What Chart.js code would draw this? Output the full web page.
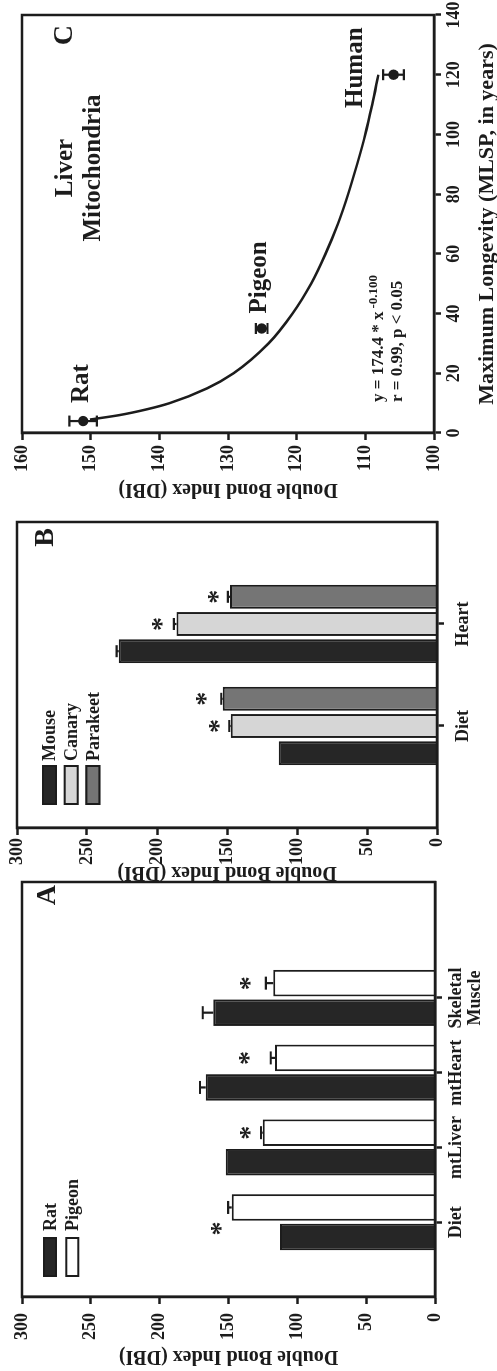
<!DOCTYPE html>
<html><head><meta charset="utf-8">
<script src="https://cdn.jsdelivr.net/npm/chart.js@4.4.1/dist/chart.umd.min.js"></script>
<style>
html,body{margin:0;padding:0;background:#fff;overflow:hidden;width:497px;height:1371px;}
#fig{position:absolute;left:0;top:1371px;width:1371px;height:497px;transform-origin:0 0;transform:rotate(-90deg);background:#fff;}
#fig canvas{position:absolute;top:0;}
</style></head><body>
<div id="fig">
<canvas id="cA" width="495" height="497" style="left:0px"></canvas>
<canvas id="cB" width="370" height="497" style="left:488px"></canvas>
<canvas id="cC" width="501" height="497" style="left:870px"></canvas>
</div>
<script>
// ---------- Panel A data ----------
const catsA = ['Diet', 'mtLiver', 'mtHeart', ['Skeletal', 'Muscle']];
const ratDBI = [112.6, 152.0, 166.6, 161.0];
const ratErr = [0, 0, 4.1, 7.7];
const pigeonDBI = [147.7, 125.2, 116.2, 117.5];
const pigeonErr = [2.5, 1.2, 3.1, 5.3];
const pigeonStar = [158.6, 138.0, 138.5, 138.0];
// ---------- Panel B data ----------
const catsB = ['Diet', 'Heart'];
const mouseDBI = [113.1, 227.3];
const mouseErr = [0, 1.5];
const canaryDBI = [147.4, 186.0];
const canaryErr = [1.0, 2.0];
const canaryStar = [158.6, 199.3];
const parakeetDBI = [153.1, 147.9];
const parakeetErr = [1.0, 1.5];
const parakeetStar = [168.0, 160.0];
const dbiTicksAB = [0, 50, 100, 150, 200, 250, 300];
// ---------- Panel C data ----------
const species = ['Rat', 'Pigeon', 'Human'];
const mlsp = [4, 35, 120];
const liverDBI = [151.1, 125.1, 105.9];
const liverErr = [2.0, 0.85, 1.5];
const fitX = [4.5, 6, 8, 10, 15, 20, 30, 40, 50, 60, 70, 80, 90, 100, 110, 120];
const fitY = [150.1, 145.8, 141.7, 138.5, 133.0, 129.2, 124.1, 120.6, 117.9, 115.8, 114.0, 112.5, 111.2, 110.0, 109.0, 108.1];
const mlspTicks = [0, 20, 40, 60, 80, 100, 120, 140];
const dbiTicksC = [100, 110, 120, 130, 140, 150, 160];

const INK = '#1c1c1c';
const SERIF = '"Liberation Serif","Times New Roman",Times,serif';
Chart.defaults.font.family = SERIF;
Chart.defaults.font.weight = 'bold';
Chart.defaults.color = INK;
Chart.defaults.animation = false;

function drawStar(ctx, x, y, size) {
  ctx.save();
  ctx.font = `bold ${size}px ${SERIF}`;
  ctx.fillStyle = INK;
  ctx.textAlign = 'center';
  ctx.textBaseline = 'alphabetic';
  const m = ctx.measureText('*');
  ctx.fillText('*', x, y + (m.actualBoundingBoxAscent - m.actualBoundingBoxDescent) / 2);
  ctx.restore();
}

const figPlugin = {
  id: 'fig',
  afterDatasetsDraw(chart, args, o) {
    const ctx = chart.ctx, a = chart.chartArea, ys = chart.scales.y;
    ctx.save();
    // error bars + stars
    chart.data.datasets.forEach((ds, di) => {
      const meta = chart.getDatasetMeta(di);
      if (ds.errors) {
        ctx.strokeStyle = INK; ctx.lineWidth = 2.2;
        meta.data.forEach((el, i) => {
          const e = ds.errors[i]; if (!e) return;
          const v = ds.data[i].y;
          const half = (o.cap || 12) / 2;
          const yTop = ys.getPixelForValue(v + e);
          const yBot = ds.twoSided ? ys.getPixelForValue(v - e) : el.y;
          ctx.beginPath();
          ctx.moveTo(el.x, yBot); ctx.lineTo(el.x, yTop);
          ctx.moveTo(el.x - half, yTop); ctx.lineTo(el.x + half, yTop);
          if (ds.twoSided) { ctx.moveTo(el.x - half, yBot); ctx.lineTo(el.x + half, yBot); }
          ctx.stroke();
        });
      }
      if (ds.stars) {
        meta.data.forEach((el, i) => {
          const s = ds.stars[i]; if (s == null) return;
          const dx = (o.starDx && o.starDx[i]) || 0;
          drawStar(ctx, el.x + dx, ys.getPixelForValue(s), 28);
        });
      }
    });
    // frame
    ctx.strokeStyle = INK; ctx.lineWidth = 2.5;
    ctx.strokeRect(a.left, a.top, a.right - a.left, a.bottom - a.top);
    // legend
    if (o.legend) {
      const L = o.legend;
      chart.data.datasets.forEach((ds, k) => {
        const x = a.left + L.dx, y = a.top + L.dy + k * L.row;
        ctx.fillStyle = ds.backgroundColor;
        ctx.fillRect(x, y, L.w, L.h);
        ctx.lineWidth = 2; ctx.strokeStyle = INK;
        ctx.strokeRect(x + 1, y + 1, L.w - 2, L.h - 2);
        ctx.fillStyle = INK;
        ctx.font = `bold 18px ${SERIF}`;
        ctx.textAlign = 'left'; ctx.textBaseline = 'middle';
        ctx.fillText(ds.label, x + L.w + L.gap, y + L.h / 2 + 1);
      });
    }
    // panel letter
    if (o.letter) {
      ctx.fillStyle = INK;
      ctx.font = `bold 28px ${SERIF}`;
      ctx.textAlign = 'right'; ctx.textBaseline = 'alphabetic';
      ctx.fillText(o.letter.text, a.right + o.letter.dx, a.top + o.letter.dy);
    }
    if (o.extra) o.extra(chart, ctx, a);
    ctx.restore();
  }
};

function valueAxis(opt) {
  return {
    type: 'linear', position: 'left', min: opt.ticks[0], max: opt.ticks[opt.ticks.length - 1],
    afterBuildTicks(s) { s.ticks = opt.ticks.map(v => ({ value: v })); },
    ticks: { padding: opt.pad, font: { size: 18, weight: 'bold' }, color: INK },
    grid: { drawOnChartArea: false, drawTicks: true, tickLength: 7, tickWidth: 2.5, color: INK },
    border: { display: true, width: 2.5, color: INK },
    title: { display: true, text: 'Double Bond Index (DBI)', font: { size: 20, weight: 'bold' }, padding: { top: opt.titlePad, bottom: 0 }, color: INK },
    afterFit(s) { s.width = opt.width; s.paddingTop = 0; s.paddingBottom = 0; }
  };
}
function catAxis(opt) {
  return {
    type: 'linear', position: 'bottom', min: 0, max: opt.max, offset: false,
    afterBuildTicks(s) { s.ticks = opt.cats.map((c, i) => ({ value: i + 1 })); },
    ticks: {
      callback: (v) => opt.cats[Math.round(v) - 1], padding: opt.pad, autoSkip: false, maxRotation: 0,
      font: { size: 18, weight: 'bold', lineHeight: 1.05 }, color: INK
    },
    grid: { drawOnChartArea: false, drawTicks: true, tickLength: 7, tickWidth: 2.5, color: INK, offset: false },
    border: { display: true, width: 2.5, color: INK },
    afterFit(s) { s.height = opt.height; s.paddingLeft = 0; s.paddingRight = 0; }
  };
}
function barSet(label, cats, vals, errs, color, stars) {
  return {
    label, data: cats.map((c, i) => ({ x: i + 1, y: vals[i] })),
    backgroundColor: color, borderColor: INK, borderWidth: 2, errors: errs, stars: stars
  };
}

// ---------- Panel A ----------
new Chart(document.getElementById('cA'), {
  type: 'bar',
  data: { datasets: [
    barSet('Rat', catsA, ratDBI, ratErr, '#262626', null),
    barSet('Pigeon', catsA, pigeonDBI, pigeonErr, '#ffffff', pigeonStar)
  ] },
  options: {
    responsive: false, devicePixelRatio: 1,
    layout: { padding: { top: 22, right: 6, left: 0, bottom: 0 } },
    datasets: { bar: { categoryPercentage: 0.79, barPercentage: 0.9 } },
    scales: {
      x: catAxis({ cats: catsA, max: 5.55, height: 62, pad: 5 }),
      y: valueAxis({ ticks: dbiTicksAB, pad: 9, width: 74, titlePad: 3 })
    },
    plugins: {
      legend: { display: false }, tooltip: { enabled: false },
      fig: { cap: 13, starDx: [-21, 0, 0, 0], legend: { dx: 20, dy: 21, w: 40, h: 14, row: 22.3, gap: 6 }, letter: { text: 'A', dx: -3, dy: 33 } }
    }
  },
  plugins: [figPlugin]
});

// ---------- Panel B ----------
new Chart(document.getElementById('cB'), {
  type: 'bar',
  data: { datasets: [
    barSet('Mouse', catsB, mouseDBI, mouseErr, '#262626', null),
    barSet('Canary', catsB, canaryDBI, canaryErr, '#d6d6d6', canaryStar),
    barSet('Parakeet', catsB, parakeetDBI, parakeetErr, '#757575', parakeetStar)
  ] },
  options: {
    responsive: false, devicePixelRatio: 1,
    layout: { padding: { top: 17, right: 9, left: 0, bottom: 0 } },
    datasets: { bar: { categoryPercentage: 0.8, barPercentage: 0.88 } },
    scales: {
      x: catAxis({ cats: catsB, max: 3, height: 60, pad: 10 }),
      y: valueAxis({ ticks: dbiTicksAB, pad: 3, width: 55, titlePad: -1 })
    },
    plugins: {
      legend: { display: false }, tooltip: { enabled: false },
      fig: { cap: 12, legend: { dx: 23, dy: 25, w: 40, h: 15, row: 21.7, gap: 4 }, letter: { text: 'B', dx: -6, dy: 36 } }
    }
  },
  plugins: [figPlugin]
});

// ---------- Panel C ----------
new Chart(document.getElementById('cC'), {
  type: 'scatter',
  data: { datasets: [
    { label: 'fit', data: fitX.map((x, i) => ({ x, y: fitY[i] })), showLine: true, pointRadius: 0,
      borderColor: INK, borderWidth: 2.5, cubicInterpolationMode: 'monotone', fill: false },
    { label: 'Liver Mitochondria', data: mlsp.map((x, i) => ({ x, y: liverDBI[i] })), pointRadius: 5.2,
      pointBackgroundColor: INK, pointBorderColor: INK, pointBorderWidth: 0, errors: liverErr, twoSided: true }
  ] },
  options: {
    responsive: false, devicePixelRatio: 1,
    layout: { padding: { top: 22, right: 15, left: 0, bottom: 0 } },
    scales: {
      x: {
        type: 'linear', position: 'bottom', min: mlspTicks[0], max: mlspTicks[mlspTicks.length - 1],
        afterBuildTicks(s) { s.ticks = mlspTicks.map(v => ({ value: v })); },
        ticks: { padding: 3, font: { size: 18, weight: 'bold' }, color: INK, maxRotation: 0, autoSkip: false },
        grid: { drawOnChartArea: false, drawTicks: true, tickLength: 7, tickWidth: 2.5, color: INK },
        border: { display: true, width: 2.5, color: INK },
        title: { display: true, text: 'Maximum Longevity (MLSP, in years)', font: { size: 22, weight: 'bold', lineHeight: 0.9 }, padding: { top: 0, bottom: 0 }, color: INK },
        afterFit(s) { s.height = 63; s.paddingLeft = 0; s.paddingRight = 0; }
      },
      y: valueAxis({ ticks: dbiTicksC, pad: 5, width: 68, titlePad: 0 })
    },
    plugins: {
      legend: { display: false }, tooltip: { enabled: false },
      fig: {
        cap: 11, letter: { text: 'C', dx: -10, dy: 50 },
        extra(chart, ctx, a) {
          const pts = chart.getDatasetMeta(1).data;
          ctx.fillStyle = INK;
          ctx.textBaseline = 'alphabetic';
          ctx.font = `bold 25px ${SERIF}`;
          ctx.textAlign = 'left';
          ctx.fillText(species[0], pts[0].x + 18, pts[0].y + 5);
          ctx.fillText(species[1], pts[1].x + 15, pts[1].y + 4);
          ctx.textAlign = 'center';
          ctx.fillText(species[2], pts[2].x + 7, pts[2].y - 31);
          ctx.fillText('Liver', a.left + 265, a.top + 50);
          ctx.fillText('Mitochondria', a.left + 265, a.top + 78);
          ctx.textAlign = 'left';
          ctx.font = `bold 17px ${SERIF}`;
          const l1 = 'y = 174.4 * x';
          const ex = a.left + 31;
          ctx.fillText(l1, ex, a.top + 361);
          const w1 = ctx.measureText(l1).width;
          ctx.fillText('r = 0.99, p < 0.05', ex, a.top + 379.5);
          ctx.font = `bold 13px ${SERIF}`;
          ctx.fillText('-0.100', ex + w1 + 3, a.top + 355);
        }
      }
    }
  },
  plugins: [figPlugin]
});
</script>
</body></html>
